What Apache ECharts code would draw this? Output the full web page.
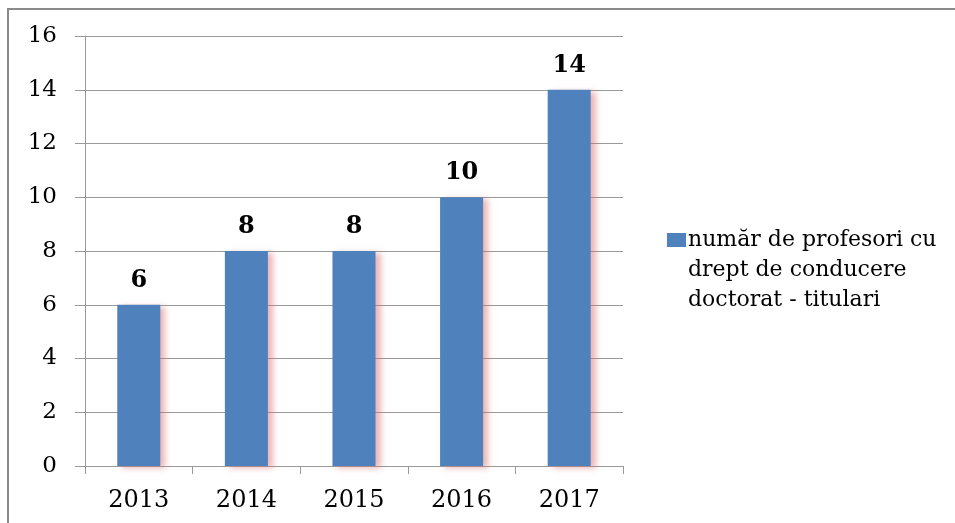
<!DOCTYPE html>
<html>
<head>
<meta charset="utf-8">
<script src="https://cdn.jsdelivr.net/npm/echarts@6/dist/echarts.min.js"></script>
<style>html,body{margin:0;padding:0;background:#fff;overflow:hidden;}#c{width:955px;height:523px;}</style>
</head>
<body>
<div id="c"></div>
<script>
const categories = ['2013', '2014', '2015', '2016', '2017'];
const values = [6, 8, 8, 10, 14];
const seriesName = 'număr de profesori cu drept de conducere doctorat - titulari';
const legendLines = ['număr de profesori cu', 'drept de conducere', 'doctorat - titulari'];
const yTicks = { min: 0, max: 16, interval: 2 };

const chart = echarts.init(document.getElementById('c'), null, { renderer: 'canvas' });
const serif = 'DejaVu Serif';
chart.setOption({
  animation: false,
  backgroundColor: '#fff',
  graphic: [{
    type: 'polyline', shape: { points: [[8, 900], [8, 9], [2000, 9]] },
    style: { fill: 'none', stroke: '#8a8a8a', lineWidth: 2 }, silent: true
  }],
  grid: { left: 85, right: 332, top: 36, bottom: 57 },
  legend: {
    left: 662, top: 225, padding: 0, icon: 'none', itemWidth: 0, itemHeight: 0, itemGap: 0,
    data: [seriesName],
    formatter: function () {
      return '{box|}{gap|}{t|' + legendLines[0] + '}\n{sp|}{t|' + legendLines[1] + '}\n{sp|}{t|' + legendLines[2] + '}';
    },
    textStyle: {
      fontFamily: serif, fontSize: 22, color: '#000', lineHeight: 30,
      rich: {
        box: { width: 19, height: 14, backgroundColor: '#4F81BD' },
        gap: { width: 2 },
        sp: { width: 21 },
        t: { fontFamily: serif, fontSize: 22, color: '#000', lineHeight: 30 }
      }
    }
  },
  xAxis: {
    type: 'category', data: categories,
    axisLine: { lineStyle: { color: '#9a9a9a', width: 1 } },
    axisTick: { show: true, length: 8, lineStyle: { color: '#9a9a9a' } },
    axisLabel: { fontFamily: serif, fontSize: 24, color: '#000', margin: 23 }
  },
  yAxis: {
    type: 'value', min: yTicks.min, max: yTicks.max, interval: yTicks.interval,
    axisLine: { show: true, lineStyle: { color: '#9a9a9a', width: 1 } },
    axisTick: { show: true, length: 10, lineStyle: { color: '#9a9a9a' } },
    splitLine: { lineStyle: { color: '#9a9a9a', width: 1 } },
    axisLabel: { fontFamily: serif, fontSize: 23, color: '#000', margin: 28 }
  },
  series: [{
    name: seriesName, type: 'bar', data: values, barWidth: '40%',
    itemStyle: {
      color: '#4F81BD',
      shadowColor: 'rgba(215,110,110,0.5)', shadowBlur: 6, shadowOffsetX: 5, shadowOffsetY: 2
    },
    label: {
      show: true, position: 'top', distance: 12,
      fontFamily: serif, fontWeight: 'bold', fontSize: 24, color: '#000'
    }
  }]
});
</script>
</body>
</html>
